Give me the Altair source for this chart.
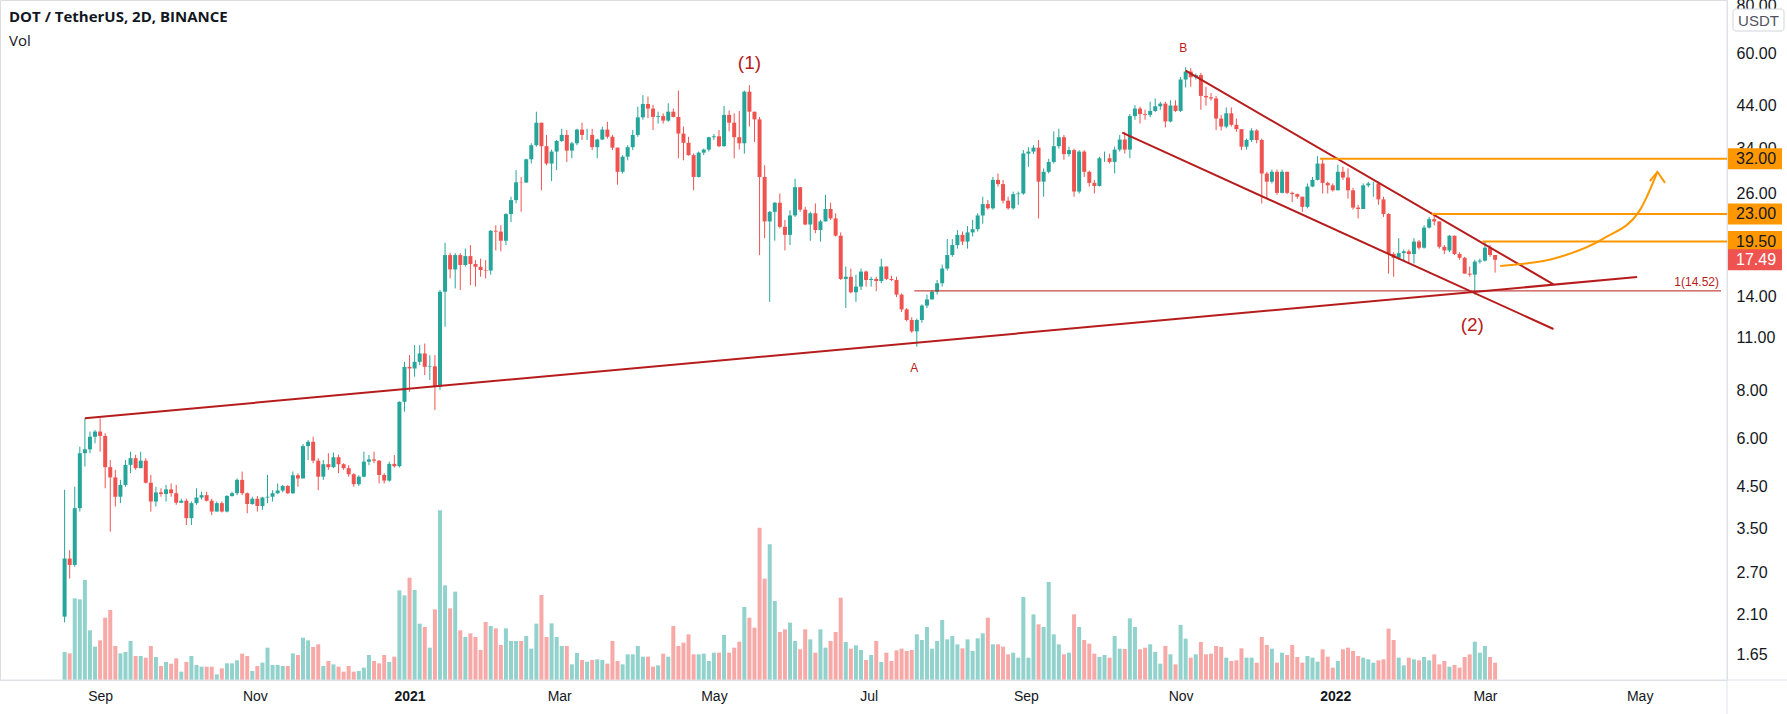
import altair as alt
import pandas as pd

# ---------------- data ----------------
START = "2020-08-18"          # first 2D candle
FIRST_OPEN = 2.07

closes = [
    2.93, 2.82, 3.96, 5.50, 5.63, 6.07, 6.26, 6.10, 5.06, 4.76,
    4.24, 4.55, 5.13, 5.34, 5.03, 5.26, 4.61, 4.12, 4.35, 4.31,
    4.43, 4.33, 4.09, 4.14, 3.73, 4.08, 4.22, 4.28, 4.14, 3.88,
    4.08, 3.88, 4.26, 4.33, 4.69, 4.33, 4.06, 4.19, 4.01, 4.22,
    4.24, 4.33, 4.40, 4.52, 4.33, 4.82, 4.73, 5.74, 5.89, 5.26,
    4.78, 5.15, 5.06, 5.37, 5.15, 5.03, 4.85, 4.57, 4.78, 5.23,
    5.30, 5.26, 4.83, 4.67, 5.16, 5.09, 7.48, 9.22, 9.13, 9.50,
    9.99, 9.22, 9.25, 8.18, 14.45, 17.99, 16.51, 17.99, 16.95, 17.88,
    17.05, 16.77, 16.45, 16.40, 20.8, 20.7, 19.6, 22.99, 24.99, 27.8,
    27.75, 31.9, 34.7, 39.7, 34.5, 31.1, 33.4, 35.6, 36.9, 33.6,
    35.1, 38.1, 36.9, 36.9, 34.3, 35.9, 38.1, 36.5, 34.2, 29.6,
    32.4, 34.3, 36.9, 41.0, 44.4, 43.2, 41.1, 41.3, 40.2, 42.4,
    41.1, 37.2, 35.2, 32.7, 28.7, 33.2, 33.8, 36.4, 36.6, 34.5,
    41.6, 39.7, 36.4, 35.1, 47.8, 42.4, 40.5, 28.7, 22.0, 23.3,
    24.6, 21.3, 20.3, 22.8, 27.0, 23.6, 21.6, 23.1, 20.9, 22.0,
    23.7, 22.4, 20.2, 15.6, 15.8, 14.4, 14.9, 16.3, 15.5, 15.6,
    15.4, 16.8, 15.6, 15.5, 14.2, 13.0, 12.2, 11.4, 12.2, 13.3,
    13.8, 14.45, 15.2, 16.6, 18.0, 19.1, 20.3, 19.5, 20.6, 21.0,
    22.8, 24.4, 23.8, 28.2, 27.5, 24.9, 23.8, 25.9, 26.0, 33.0,
    33.4, 34.2, 27.9, 29.6, 31.4, 34.5, 36.4, 32.9, 33.7, 26.3,
    33.4, 29.6, 27.7, 27.2, 32.1, 32.1, 31.4, 33.8, 35.9, 33.8,
    41.3, 43.2, 41.8, 41.6, 42.6, 43.8, 44.5, 40.0, 44.0, 42.6,
    51.4, 53.9, 52.1, 52.8, 46.6, 46.2, 45.9, 40.7, 38.8, 42.0,
    39.2, 38.2, 34.4, 35.8, 37.9, 35.8, 29.3, 27.9, 29.6, 26.1,
    29.6, 26.1, 25.9, 25.5, 24.0, 27.1, 28.2, 31.1, 27.7, 27.3,
    26.5, 29.6, 28.6, 26.5, 23.9, 23.7, 27.3, 27.6, 27.6, 25.1,
    23.0, 18.1, 17.7, 18.2, 18.4, 18.1, 19.5, 18.8, 21.2, 22.3,
    22.0, 18.9, 18.5, 20.2, 18.1, 17.7, 16.1, 16.0, 17.3, 17.4,
    18.8, 18.0, 17.49,
]

highs = [
    4.42, 3.08, 4.50, 5.72, 6.78, 6.26, 6.32, 6.78, 6.20, 5.28,
    4.98, 4.69, 5.28, 5.55, 5.45, 5.55, 5.34, 4.83, 4.50, 4.46,
    4.55, 4.59, 4.55, 4.19, 4.19, 4.12, 4.46, 4.37, 4.37, 4.19,
    4.12, 4.12, 4.28, 4.37, 4.73, 4.93, 4.35, 4.24, 4.26, 4.24,
    4.83, 4.41, 4.59, 4.55, 4.55, 4.93, 4.88, 5.81, 5.95, 6.07,
    5.34, 5.28, 5.50, 5.52, 5.45, 5.18, 5.12, 4.88, 4.82, 5.55,
    5.44, 5.55, 5.28, 4.88, 5.23, 5.44, 7.50, 9.50, 9.89, 10.5,
    10.5, 10.6, 9.89, 9.89, 14.6, 19.36, 18.24, 18.2, 18.2, 18.7,
    19.1, 17.45, 17.6, 17.45, 20.9, 21.5, 21.5, 23.1, 25.5, 29.9,
    28.7, 32.0, 35.1, 42.4, 39.6, 36.9, 33.8, 35.8, 38.3, 38.0,
    35.4, 38.3, 39.7, 38.3, 38.3, 36.1, 38.8, 39.9, 36.9, 34.2,
    32.7, 34.7, 38.0, 43.7, 46.8, 46.4, 44.2, 42.4, 42.0, 44.6,
    43.2, 48.1, 38.8, 36.5, 33.0, 33.4, 34.0, 36.5, 37.1, 38.0,
    43.9, 42.7, 42.0, 42.6, 48.1, 49.7, 41.6, 41.1, 30.8, 23.4,
    24.7, 26.0, 22.2, 23.5, 28.4, 27.0, 24.0, 23.3, 24.5, 22.2,
    25.8, 24.6, 23.1, 20.6, 16.8, 16.6, 16.0, 16.6, 16.4, 15.8,
    15.8, 17.6, 16.8, 15.9, 15.8, 14.3, 13.1, 12.4, 12.3, 13.4,
    14.2, 14.6, 15.5, 17.0, 19.8, 19.8, 20.9, 20.7, 21.4, 22.2,
    23.1, 25.5, 25.0, 28.7, 29.3, 28.2, 25.5, 26.3, 26.3, 33.7,
    34.3, 34.7, 35.8, 30.2, 32.0, 37.7, 38.3, 36.9, 34.4, 34.0,
    33.7, 33.7, 29.8, 28.2, 32.4, 33.4, 33.0, 34.4, 36.9, 37.6,
    41.8, 44.1, 43.7, 42.9, 45.0, 45.9, 45.0, 45.0, 45.4, 45.4,
    52.2, 55.3, 55.0, 53.3, 53.5, 49.2, 47.4, 46.6, 41.6, 43.5,
    43.5, 40.7, 38.2, 36.1, 38.4, 38.2, 36.1, 29.6, 30.0, 30.0,
    30.0, 29.6, 26.3, 26.0, 25.5, 27.6, 28.7, 32.5, 32.1, 27.9,
    27.6, 30.9, 30.5, 30.2, 26.9, 24.3, 27.6, 27.9, 27.9, 27.9,
    25.5, 23.1, 18.3, 19.9, 18.6, 18.6, 19.9, 19.7, 21.5, 22.6,
    23.2, 22.0, 19.1, 20.3, 20.2, 18.3, 17.8, 16.8, 17.5, 17.6,
    19.5, 19.1, 18.0,
]

lows = [
    2.00, 2.60, 2.79, 3.88, 5.08, 5.50, 5.84, 5.55, 4.46, 3.44,
    4.00, 4.08, 4.50, 4.88, 4.98, 5.03, 4.59, 3.88, 4.00, 4.24,
    4.12, 4.24, 4.04, 4.08, 3.58, 3.58, 4.04, 4.17, 4.12, 3.80,
    3.88, 3.86, 3.86, 4.24, 4.28, 4.28, 3.84, 4.04, 3.88, 3.92,
    4.08, 4.12, 4.31, 4.35, 4.31, 4.31, 4.50, 4.73, 5.28, 5.18,
    4.41, 4.69, 4.98, 5.03, 4.88, 4.98, 4.78, 4.50, 4.52, 4.76,
    5.12, 5.18, 4.59, 4.59, 4.64, 5.05, 5.05, 7.05, 7.94, 8.69,
    9.31, 8.78, 8.52, 7.12, 8.03, 11.72, 15.65, 14.74, 14.6, 16.8,
    15.03, 14.9, 15.8, 15.65, 16.0, 18.5, 18.4, 19.1, 21.9, 24.5,
    23.3, 27.9, 31.1, 34.4, 26.5, 30.8, 28.0, 29.9, 35.4, 31.4,
    32.1, 34.7, 35.8, 35.8, 33.7, 32.1, 35.8, 36.1, 33.7, 27.4,
    29.3, 31.7, 33.7, 36.5, 40.4, 40.8, 38.0, 39.5, 39.5, 39.9,
    41.0, 32.1, 31.7, 32.6, 26.5, 28.6, 32.7, 33.4, 35.8, 34.3,
    34.4, 37.7, 32.1, 33.8, 33.0, 38.8, 35.4, 17.99, 19.9, 13.6,
    19.6, 21.1, 18.5, 19.1, 22.6, 23.3, 21.5, 19.6, 20.5, 19.5,
    22.0, 22.2, 20.1, 15.5, 13.1, 14.3, 13.6, 14.6, 14.9, 14.9,
    14.5, 15.2, 15.5, 15.4, 14.0, 12.8, 12.1, 11.3, 10.4, 12.0,
    13.1, 13.8, 14.2, 14.9, 16.4, 17.8, 18.7, 19.1, 18.7, 20.1,
    20.7, 21.7, 23.6, 23.6, 27.1, 24.5, 23.6, 23.6, 24.3, 25.8,
    30.5, 32.9, 22.4, 25.5, 29.3, 31.1, 34.0, 31.8, 32.4, 25.5,
    26.0, 28.7, 27.1, 26.0, 27.1, 31.4, 31.1, 29.3, 33.4, 33.0,
    32.1, 40.4, 39.5, 40.4, 41.0, 42.3, 42.9, 38.6, 39.8, 42.3,
    42.3, 49.0, 49.2, 51.4, 42.9, 44.0, 45.3, 38.0, 37.9, 38.4,
    38.8, 37.6, 33.7, 33.8, 35.4, 35.1, 24.5, 25.2, 27.6, 25.8,
    26.0, 25.9, 24.7, 25.2, 23.3, 23.8, 27.0, 28.1, 26.0, 26.0,
    26.3, 26.5, 28.2, 25.2, 23.6, 22.4, 23.7, 27.0, 25.5, 24.3,
    22.6, 16.1, 15.8, 17.5, 17.3, 17.1, 17.1, 18.6, 18.7, 21.1,
    21.5, 18.7, 18.1, 18.3, 18.0, 17.5, 16.1, 15.8, 14.2, 17.1,
    17.3, 17.8, 16.2,
]

volumes = [
    84, 80, 245, 242, 300, 149, 100, 119, 187, 210,
    102, 80, 84, 117, 72, 72, 67, 102, 69, 42,
    54, 49, 65, 25, 54, 72, 45, 40, 40, 40,
    17, 35, 50, 50, 59, 79, 72, 27, 42, 52,
    97, 45, 45, 42, 42, 80, 75, 127, 119, 99,
    107, 42, 57, 47, 40, 25, 42, 25, 27, 37,
    75, 57, 50, 75, 54, 70,
    269, 254, 307, 270, 169, 159, 97, 212, 509,
    284, 215, 265, 149, 129, 140, 129, 90, 174, 162,
    155, 105, 155, 117, 117, 117, 132, 94, 169, 255,
    129, 170, 129, 102, 102, 47, 81, 60, 55, 60,
    62, 60, 49, 117, 57, 47, 77, 77, 102, 70,
    70, 40, 44, 79, 70, 162, 102, 112, 137, 77,
    77, 79, 57, 82, 82, 135, 82, 97, 115, 219,
    187, 157,
    457, 304, 407,
    237, 144, 152, 172, 117, 92, 152, 122, 82, 152,
    97, 117, 144, 247, 114, 94, 104, 90, 60, 75,
    117, 54, 82, 57, 89, 94, 87, 90, 137, 120,
    159, 94, 117, 180, 122, 132, 107, 95, 122, 87,
    125, 140, 187, 107, 107, 100, 77, 82, 67, 249,
    67, 197, 167, 159, 294, 137, 107, 77, 82, 197,
    159, 120, 109, 79, 69, 75, 67, 132, 94, 93,
    185, 159, 92, 97, 107, 84, 49, 102, 77, 47,
    165, 124, 67, 77, 114, 77, 79, 102, 99, 67,
    57, 59, 95, 67, 67, 52, 129, 105, 94,
    52, 82, 75, 105, 69, 52, 72, 67, 55, 92,
    70, 37, 57, 92, 97, 87, 72, 67, 62, 52,
    59, 62, 154, 120, 67, 44, 67, 62, 59, 69,
    59, 77, 47, 57, 40, 45, 37, 69, 77, 115,
    82, 102, 69, 52,
]

price_ticks = [1.65, 2.10, 2.70, 3.50, 4.50, 6.00, 8.00, 11.00, 14.00,
               26.00, 34.00, 44.00, 60.00, 80.00]
month_ticks = [(2020, 9), (2020, 11), (2021, 1), (2021, 3), (2021, 5), (2021, 7),
               (2021, 9), (2021, 11), (2022, 1), (2022, 3), (2022, 5)]

# drawings (date, price)
support_line = [("2020-08-26", 6.78), ("2022-04-30", 15.77)]
channel_top = [("2021-11-03", 54.2), ("2022-03-28", 15.1)]
channel_bottom = [("2021-10-09", 37.4), ("2022-03-28", 11.56)]
curve_pts = [("2022-03-07", 16.85), ("2022-03-29", 17.67), ("2022-04-17", 19.9),
             ("2022-05-01", 23.5), ("2022-05-08", 29.6)]
arrow_a = [("2022-05-05", 28.0), ("2022-05-08", 29.6), ("2022-05-11", 27.7)]
level_lines = [("2021-12-26", 32.00), ("2022-02-08", 23.00), ("2022-02-28", 19.50)]
fib_line = ("2021-07-19", 14.52)
wave_labels = [("(1)", "2021-05-15", 56.7, 19), ("B", "2021-11-02", 62.0, 12),
               ("A", "2021-07-19", 9.15, 12), ("(2)", "2022-02-24", 11.84, 19)]
box_labels = [("32.00", 32.00, "#ff9800", "#131722"), ("23.00", 23.00, "#ff9800", "#131722"),
              ("19.50", 19.50, "#ff9800", "#131722"), ("17.49", 17.49, "#ef5350", "#ffffff")]

# ---------------- build ----------------
n = min(len(closes), len(highs), len(lows), len(volumes))
closes, highs, lows, volumes = closes[:n], highs[:n], lows[:n], volumes[:n]
opens = [FIRST_OPEN] + closes[:-1]
dates = pd.date_range(START, periods=n, freq="2D").strftime("%Y-%m-%d")
df = pd.DataFrame({
    "date": dates, "open": opens, "close": closes,
    "high": [max(h, o, c) for h, o, c in zip(highs, opens, closes)],
    "low": [min(l, o, c) for l, o, c in zip(lows, opens, closes)],
    "vol": volumes,
})

W, H = 1727, 680
GREEN, RED = "#26a69a", "#ef5350"
DRAW_RED = "#b71c1c"
ORANGE = "#ff9800"
TXT = "#131722"
FONT = "Liberation Sans"
RFS = 16  # right price scale font size

xscale = alt.Scale(type="utc",
                   domain=[alt.DateTime(year=2020, month=7, date=25, hours=12, utc=True),
                           alt.DateTime(year=2022, month=6, date=2, hours=11, utc=True)])
yscale = alt.Scale(type="log", domain=[1.417, 82.7], nice=False, zero=False)
month_vals = [alt.DateTime(year=y, month=m, date=1, utc=True) for y, m in month_ticks]

xaxis = alt.Axis(values=month_vals, title=None, grid=False, ticks=False, domain=False,
                 labelExpr="utcmonth(datum.value)==0 ? utcFormat(datum.value,'%Y') : utcFormat(datum.value,'%b')",
                 labelFontWeight={"condition": {"test": "utcmonth(datum.value)==0", "value": "bold"},
                                  "value": "normal"},
                 labelPadding=9, labelFontSize=14, labelColor=TXT, labelFont=FONT)
yaxis = alt.Axis(orient="right", values=price_ticks, format=".2f", title=None, grid=False,
                 ticks=False, domain=False, labelPadding=9, labelFontSize=RFS,
                 labelColor=TXT, labelFont=FONT, labelFlush=False, labelOverlap=False)

X = alt.X("date:T", scale=xscale, axis=xaxis)
color_cond = alt.condition("datum.close >= datum.open", alt.value(GREEN), alt.value(RED))

base = alt.Chart(df)
volume = base.mark_bar(width=4, opacity=0.5).encode(
    x=X, y=alt.Y("vol:Q", scale=alt.Scale(domain=[0, 2040], nice=False), axis=None),
    color=color_cond)
wicks = base.mark_rule(strokeWidth=1).encode(
    x=X, y=alt.Y("low:Q", scale=yscale, axis=yaxis), y2="high:Q", color=color_cond)
bodies = base.mark_bar(width=4).encode(
    x=X, y=alt.Y("open:Q", scale=yscale, axis=None), y2="close:Q", color=color_cond)

Yn = lambda f: alt.Y(f, scale=yscale, axis=None)

def seg_df(name, pts):
    return pd.DataFrame({"id": name, "date": [p[0] for p in pts], "price": [p[1] for p in pts]})

lines_df = pd.concat([seg_df("s", support_line), seg_df("t", channel_top), seg_df("b", channel_bottom)])
trend = alt.Chart(lines_df).mark_line(color=DRAW_RED, strokeWidth=2).encode(
    x=X, y=Yn("price:Q"), detail="id:N")

fib = alt.Chart(pd.DataFrame({"date": [fib_line[0]], "price": [fib_line[1]]})).mark_rule(
    color=DRAW_RED, strokeWidth=1).encode(x=X, x2=alt.value(1721), y=Yn("price:Q"))
fib_txt = alt.Chart(pd.DataFrame({"t": ["1(14.52)"], "price": [15.35]})).mark_text(
    align="right", baseline="middle", color=DRAW_RED, fontSize=12, font=FONT).encode(
    x=alt.value(1719), y=Yn("price:Q"), text="t:N")

lv = alt.Chart(pd.DataFrame({"date": [l[0] for l in level_lines], "price": [l[1] for l in level_lines]})).mark_rule(
    color=ORANGE, strokeWidth=2).encode(x=X, x2=alt.value(W), y=Yn("price:Q"))

curve = alt.Chart(seg_df("c", curve_pts)).mark_line(
    color=ORANGE, strokeWidth=2, interpolate="monotone").encode(x=X, y=Yn("price:Q"))
arrow = alt.Chart(seg_df("a", arrow_a)).mark_line(color=ORANGE, strokeWidth=2).encode(
    x=X, y=Yn("price:Q"))

wl = pd.DataFrame({"t": [w[0] for w in wave_labels], "date": [w[1] for w in wave_labels],
                   "price": [w[2] for w in wave_labels], "fs": [w[3] for w in wave_labels]})
waves = alt.Chart(wl).mark_text(color=DRAW_RED, font=FONT, baseline="middle").encode(
    x=X, y=Yn("price:Q"), text="t:N", size=alt.Size("fs:Q", scale=None, legend=None))

bl = pd.DataFrame({"t": [b[0] for b in box_labels], "price": [b[1] for b in box_labels],
                   "bg": [b[2] for b in box_labels], "fg": [b[3] for b in box_labels]})
boxes = alt.Chart(bl).mark_rule(strokeWidth=21).encode(
    x=alt.value(W + 1), x2=alt.value(W + 55), y=Yn("price:Q"), color=alt.Color("bg:N", scale=None))
box_txt = alt.Chart(bl).mark_text(align="left", baseline="middle", fontSize=RFS, font=FONT).encode(
    x=alt.value(W + 9), y=Yn("price:Q"), text="t:N", color=alt.Color("fg:N", scale=None))

one = pd.DataFrame({"k": [0]})
frame_h = alt.Chart(one).mark_rule(color="#e0e3eb", strokeWidth=1).encode(
    x=alt.value(0), x2=alt.value(1787), y=alt.value(H))
frame_v = alt.Chart(one).mark_rule(color="#e0e3eb", strokeWidth=1).encode(
    x=alt.value(W), y=alt.value(0), y2=alt.value(714))
usdt_box = alt.Chart(one).mark_rect(fill="white", stroke="#d1d4dc", cornerRadius=3).encode(
    x=alt.value(W + 6), x2=alt.value(W + 57), y=alt.value(9), y2=alt.value(31))
usdt_txt = alt.Chart(pd.DataFrame({"t": ["USDT"]})).mark_text(
    fontSize=15, font=FONT, color="#50535e", baseline="middle").encode(
    x=alt.value(W + 31.5), y=alt.value(20.5), text="t:N")
title = alt.Chart(pd.DataFrame({"t": ["DOT / TetherUS, 2D, BINANCE"]})).mark_text(
    align="left", baseline="middle", fontSize=15, fontWeight="bold", font="Open Sans", color=TXT).encode(
    x=alt.value(9), y=alt.value(17), text="t:N")
vol_lbl = alt.Chart(pd.DataFrame({"t": ["Vol"]})).mark_text(
    align="left", baseline="middle", fontSize=15, font="Open Sans", color=TXT).encode(
    x=alt.value(9), y=alt.value(41), text="t:N")

chart = alt.layer(
    volume, frame_h, frame_v, wicks, bodies, trend, fib, fib_txt, lv, curve, arrow, waves,
    boxes, box_txt, usdt_box, usdt_txt, title, vol_lbl,
).resolve_scale(y="independent").properties(
    width=W, height=H,
    autosize=alt.AutoSizeParams(type="none"),
    padding={"left": 0, "top": 0, "right": 60, "bottom": 34},
).configure_view(stroke=None).configure(background="white")

chart.save("out.html", embed_options={"renderer": "svg", "actions": False})
